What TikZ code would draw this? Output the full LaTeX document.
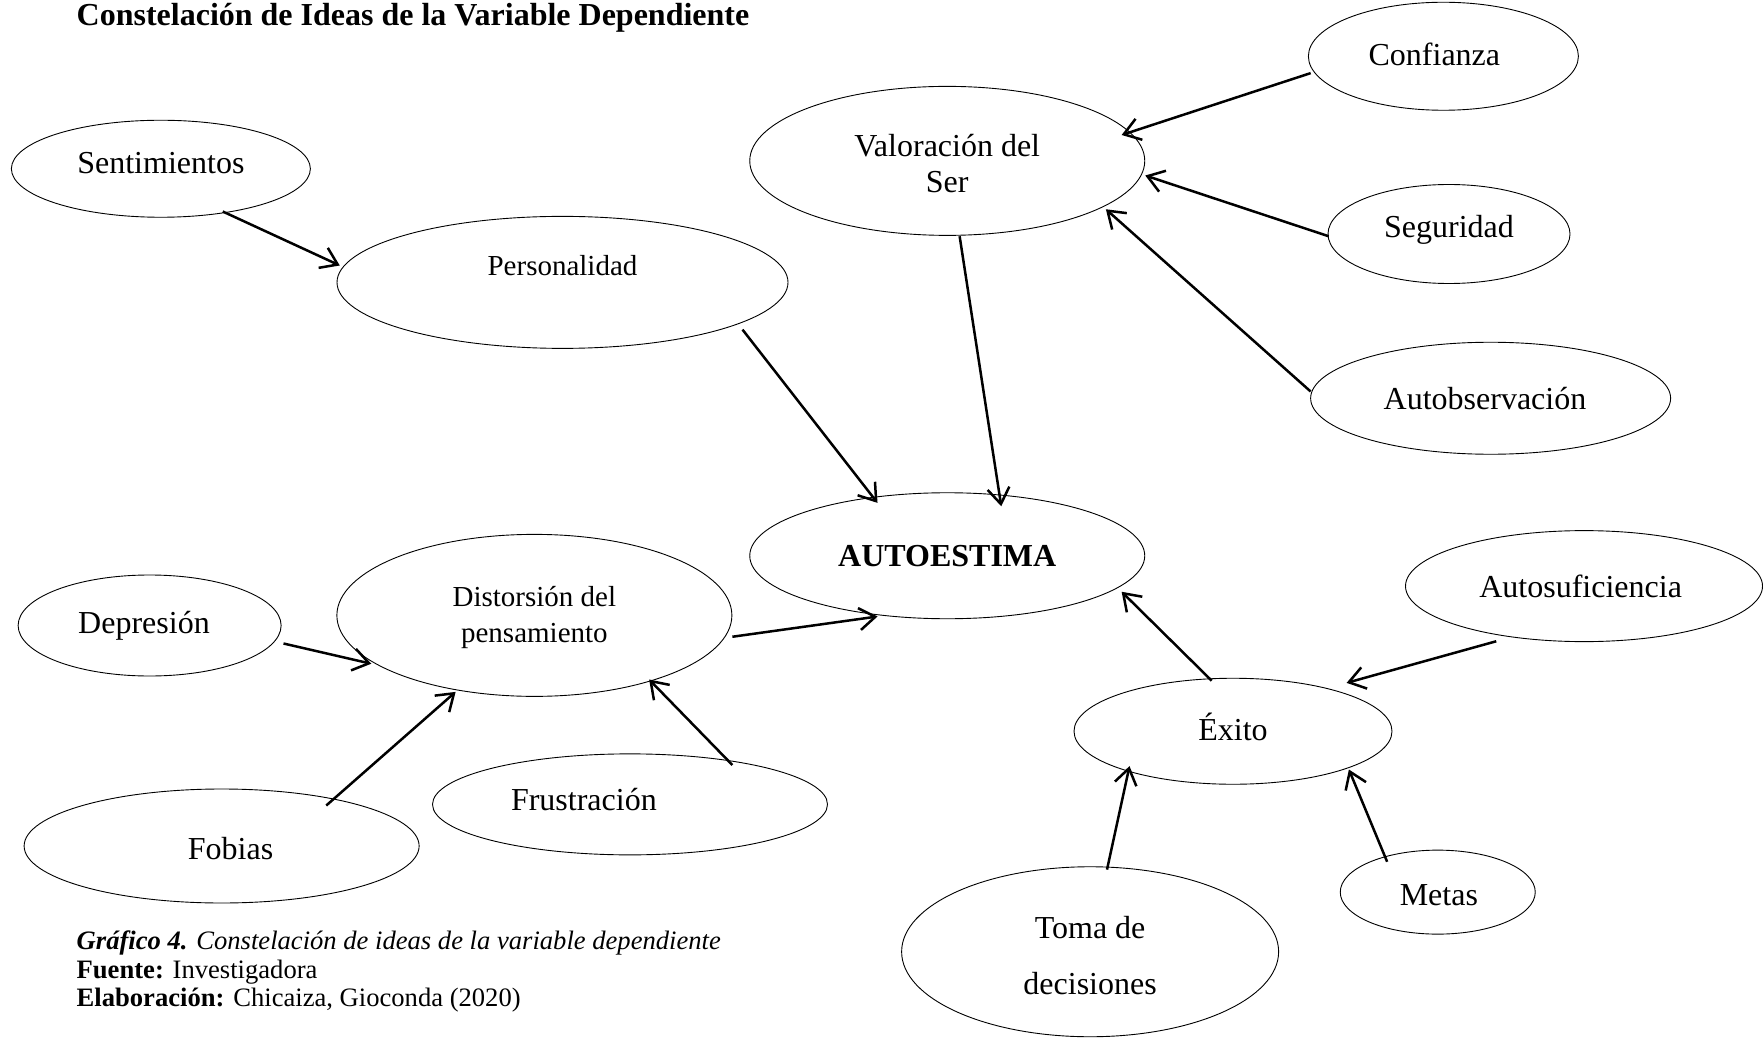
\documentclass[tikz,border=0pt]{standalone}
\usepackage{fontspec}
\setmainfont{Liberation Serif}
\usetikzlibrary{shapes.geometric,arrows.meta,calc}
\tikzset{
  ell/.style={draw, ellipse, inner sep=0pt, line width=0.9pt},
  txt/.style={inner sep=0pt, align=center, font=\fontsize{32}{36}\selectfont},
  txtsm/.style={inner sep=0pt, align=center, font=\fontsize{29}{36}\selectfont},
  capt/.style={inner sep=0pt, anchor=west, font=\fontsize{26.6}{29}\selectfont},
  arr/.style={line width=2.5pt, -{Straight Barb[length=16pt,width=22pt,line width=2.5pt]}},
}
\begin{document}
\begin{tikzpicture}[x=1.125pt,y=-1.125pt]
\useasboundingbox (0,0) rectangle (1568,922);
% title
\node[inner sep=0pt, anchor=west, font=\fontsize{32}{36}\selectfont\bfseries] (title) at (68,16) {Constelación de Ideas de la Variable Dependiente};
% ellipses
\node[ell, minimum width=299pt, minimum height=97pt] (sent) at (143,150) {};
\node[ell, minimum width=451pt, minimum height=132pt] (pers) at (500,251) {};
\node[ell, minimum width=395pt, minimum height=149pt] (val) at (842,143) {};
\node[ell, minimum width=270pt, minimum height=108pt] (conf) at (1283,50) {};
\node[ell, minimum width=242pt, minimum height=99pt] (seg) at (1288,208) {};
\node[ell, minimum width=360pt, minimum height=112pt] (auto) at (1325,354) {};
\node[ell, minimum width=395pt, minimum height=126pt] (ae) at (842,494) {};
\node[ell, minimum width=357pt, minimum height=111pt] (asuf) at (1408,521) {};
\node[ell, minimum width=318pt, minimum height=106pt] (exito) at (1096,650) {};
\node[ell, minimum width=195pt, minimum height=84pt] (metas) at (1278,793) {};
\node[ell, minimum width=377pt, minimum height=170pt] (toma) at (969,846) {};
\node[ell, minimum width=395pt, minimum height=162pt] (dist) at (475,547) {};
\node[ell, minimum width=263pt, minimum height=101pt] (dep) at (133,556) {};
\node[ell, minimum width=395pt, minimum height=114pt] (fob) at (197,752) {};
\node[ell, minimum width=395pt, minimum height=101pt] (frus) at (560,715) {};
% texts
\node[txt] (tsent) at (143,145) {Sentimientos};
\node[txtsm] (tpers) at (500,236) {Personalidad};
\node[txt] (tval) at (842,145) {Valoración del\\Ser};
\node[txt] (tconf) at (1275,48) {Confianza};
\node[txt] (tseg) at (1288,204) {Seguridad};
\node[txt] (tauto) at (1320,354) {Autobservación};
\node[txt, font=\fontsize{32}{36}\selectfont\bfseries] (tae) at (842,494) {AUTOESTIMA};
\node[txt] (tasuf) at (1405,521) {Autosuficiencia};
\node[txt] (texito) at (1096,646) {Éxito};
\node[txt] (tmetas) at (1279,796) {Metas};
\node[txt, font=\fontsize{32}{56}\selectfont] (ttoma) at (969,849) {Toma de\\decisiones};
\node[txtsm] (tdist) at (475,549) {Distorsión del\\pensamiento};
\node[txt] (tdep) at (128,556) {Depresión};
\node[txt] (tfob) at (205,754) {Fobias};
\node[txt] (tfrus) at (519,711) {Frustración};
% arrows
\draw[arr] ($(sent)+(55,38)$) -- ($(pers)+(-198,-15)$);
\draw[arr] ($(pers)+(160,42)$) -- ($(ae)+(-62,-47)$);
\draw[arr] ($(val)+(11,67)$) -- ($(ae)+(48,-44)$);
\draw[arr] ($(conf)+(-118,15)$) -- ($(val)+(155,-23)$);
\draw[arr] ($(seg)+(-107,2)$) -- ($(val)+(176,13)$);
\draw[arr] ($(auto)+(-160,-6)$) -- ($(val)+(141,43)$);
\draw[arr] ($(dist)+(176,19)$) -- ($(ae)+(-62,54)$);
\draw[arr] ($(dep)+(119,16)$) -- ($(dist)+(-145,43)$);
\draw[arr] ($(fob)+(93,-36)$) -- ($(dist)+(-70,68)$);
\draw[arr] ($(frus)+(91,-35)$) -- ($(dist)+(102,57)$);
\draw[arr] ($(exito)+(-19,-45)$) -- ($(ae)+(155,32)$);
\draw[arr] ($(asuf)+(-78,49)$) -- ($(exito)+(101,-43)$);
\draw[arr] ($(toma)+(15,-73)$) -- ($(exito)+(-92,31)$);
\draw[arr] ($(metas)+(-45,-27)$) -- ($(exito)+(103,34)$);
% caption
\node[capt] (cap1) at (68,838) {\textbf{\textit{Gráfico 4.}} \textit{Constelación de ideas de la variable dependiente}};
\node[capt] (cap2) at (68,864) {\textbf{Fuente:} Investigadora};
\node[capt] (cap3) at (68,889) {\textbf{Elaboración:} Chicaiza, Gioconda (2020)};
\end{tikzpicture}
\end{document}
